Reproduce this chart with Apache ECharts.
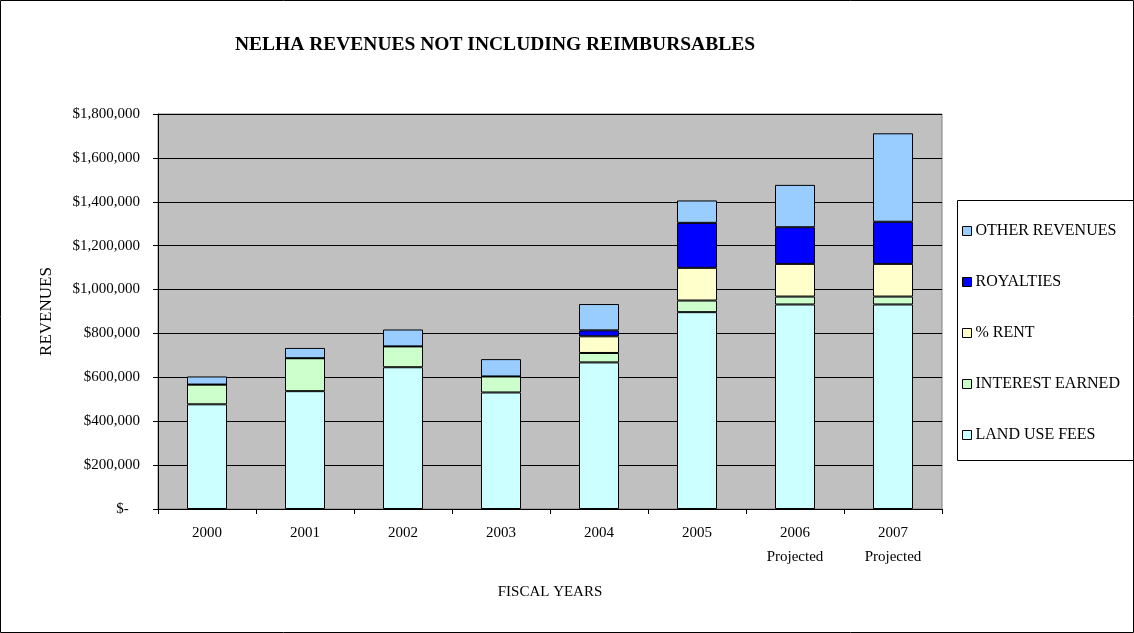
<!DOCTYPE html>
<html>
<head>
<meta charset="utf-8">
<title>NELHA Revenues</title>
<script src="https://cdn.jsdelivr.net/npm/echarts@6/dist/echarts.min.js"></script>
<style>
  html, body { margin: 0; padding: 0; background: #fff; }
  #chart { width: 1134px; height: 633px; }
</style>
</head>
<body>
<div id="chart"></div>
<script>
const years = ['2000', '2001', '2002', '2003', '2004', '2005', '2006\nProjected', '2007\nProjected'];

const landUseFees    = [477000, 537000, 646000, 531000, 668000, 897000, 932000, 932000];
const interestEarned = [90000, 150000, 95000, 73000, 43000, 53000, 36000, 36000];
const percentRent    = [0, 0, 0, 0, 76000, 149000, 149000, 149000];
const royalties      = [0, 0, 0, 0, 27000, 205000, 167000, 192000];
const otherRevenues  = [37000, 47000, 77000, 79000, 120000, 102000, 193000, 403000];

const yTicks = [0, 200000, 400000, 600000, 800000, 1000000, 1200000, 1400000, 1600000, 1800000];

const font = '"Liberation Serif", "Times New Roman", serif';

const makeSeries = (name, data, color) => ({
  name: name,
  type: 'bar',
  stack: 'rev',
  barWidth: 40,
  data: data,
  itemStyle: { color: color, borderColor: '#000', borderWidth: 1 }
});

const getOption = () => {
  return {
    animation: false,
    textStyle: { fontFamily: font },
    title: {
      text: 'NELHA REVENUES NOT INCLUDING REIMBURSABLES',
      left: 490,
      top: 30,
      textAlign: 'center',
      textStyle: { fontFamily: font, fontSize: 19.5, fontWeight: 'bold', color: '#000' }
    },
    graphic: [
      { type: 'rect', shape: { x: 0.5, y: 0.5, width: 1133, height: 632 },
        style: { fill: 'none', stroke: '#000', lineWidth: 1 }, silent: true },
      { type: 'rect', shape: { x: 957.5, y: 200.5, width: 177, height: 260 },
        style: { fill: '#fff', stroke: '#000', lineWidth: 1 }, silent: true, z: -1 }
    ],
    legend: {
      orient: 'vertical',
      left: 957,
      top: 218,
      itemWidth: 9,
      itemHeight: 9,
      itemGap: 35,
      icon: 'rect',
      data: ['OTHER REVENUES', 'ROYALTIES', '% RENT', 'INTEREST EARNED', 'LAND USE FEES'],
      textStyle: { fontFamily: font, fontSize: 16, color: '#000', padding: [0, 0, 0, -1] },
      itemStyle: { borderColor: '#000', borderWidth: 1 }
    },
    grid: {
      left: 158,
      top: 114,
      width: 784,
      height: 395,
      show: true,
      backgroundColor: '#C0C0C0',
      borderColor: '#808080',
      borderWidth: 1
    },
    xAxis: {
      type: 'category',
      data: years,
      name: 'FISCAL YEARS',
      nameLocation: 'middle',
      nameGap: 76,
      nameTextStyle: { fontFamily: font, fontSize: 15, color: '#000' },
      axisLine: { lineStyle: { color: '#000' } },
      axisTick: { show: true, length: 5, lineStyle: { color: '#000' } },
      axisLabel: { fontFamily: font, fontSize: 15, color: '#000', margin: 12, lineHeight: 24 }
    },
    yAxis: {
      type: 'value',
      min: 0,
      max: yTicks[yTicks.length - 1],
      interval: yTicks[1] - yTicks[0],
      name: 'REVENUES',
      nameLocation: 'middle',
      nameRotate: 90,
      nameGap: 103,
      nameTextStyle: { fontFamily: font, fontSize: 17, color: '#000' },
      axisLine: { show: true, lineStyle: { color: '#000' } },
      axisTick: { show: true, length: 5, lineStyle: { color: '#000' } },
      splitLine: { show: true, lineStyle: { color: '#000', width: 1 } },
      axisLabel: {
        fontFamily: font,
        fontSize: 15,
        color: '#000',
        margin: 18,
        formatter: v => v === 0 ? '$-   ' : '$' + v.toLocaleString('en-US')
      }
    },
    series: [
      makeSeries('LAND USE FEES', landUseFees, '#CCFFFF'),
      makeSeries('INTEREST EARNED', interestEarned, '#CCFFCC'),
      makeSeries('% RENT', percentRent, '#FFFFCC'),
      makeSeries('ROYALTIES', royalties, '#0000FF'),
      makeSeries('OTHER REVENUES', otherRevenues, '#99CCFF')
    ]
  };
};

const chart = echarts.init(document.getElementById('chart'));
chart.setOption(getOption());
</script>
</body>
</html>
